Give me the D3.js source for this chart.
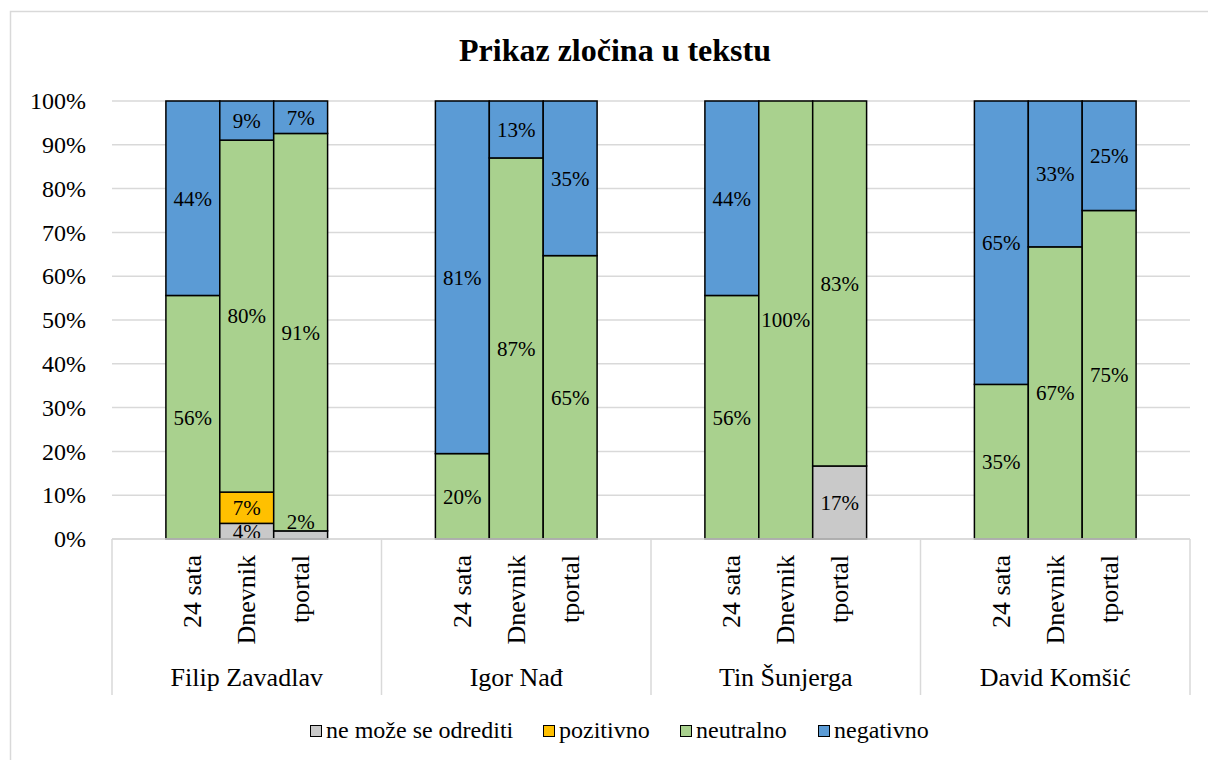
<!DOCTYPE html>
<html>
<head>
<meta charset="utf-8">
<script src="https://cdn.jsdelivr.net/npm/d3@7"></script>
<style>
  body { margin: 0; background: #fff; }
  text { font-family: "Liberation Serif", "Times New Roman", serif; fill: #000; }
</style>
</head>
<body>
<div id="chart"></div>
<script>
// data
var candidates = ["Filip Zavadlav", "Igor Nađ", "Tin Šunjerga", "David Komšić"];
var outlets = ["24 sata", "Dnevnik", "tportal"];
var seriesNames = ["ne može se odrediti", "pozitivno", "neutralno", "negativno"];
var seriesColors = ["#C9C9C9", "#FFC000", "#A9D18E", "#5B9BD5"];

// one value per bar, candidate by candidate, outlet by outlet (percent)
var neOdredeno = [0, 3.57, 1.85, 0, 0, 0, 0, 0, 16.67, 0, 0, 0];
var pozitivno  = [0, 7.14, 0, 0, 0, 0, 0, 0, 0, 0, 0, 0];
var neutralno  = [55.6, 80.36, 90.74, 19.5, 87, 64.7, 55.6, 100, 83.33, 35.3, 66.7, 75];
var negativno  = [44.4, 8.93, 7.41, 80.5, 13, 35.3, 44.4, 0, 0, 64.7, 33.3, 25];

var yTicks = [0, 0.1, 0.2, 0.3, 0.4, 0.5, 0.6, 0.7, 0.8, 0.9, 1];

var svgWidth = 1208;
var svgHeight = 760;

var margin = { top: 101, right: 18, bottom: 221, left: 112 };
var width = svgWidth - margin.left - margin.right;
var height = svgHeight - margin.top - margin.bottom;

var svg = d3.select("#chart")
    .append("svg")
    .attr("width", svgWidth)
    .attr("height", svgHeight);

// outer frame
svg.append("rect")
    .attr("x", 10.5)
    .attr("y", 11.5)
    .attr("width", svgWidth)
    .attr("height", svgHeight)
    .attr("fill", "none")
    .attr("stroke", "#D9D9D9")
    .attr("stroke-width", 1.5);

svg.append("text")
    .attr("x", 615)
    .attr("y", 61)
    .attr("text-anchor", "middle")
    .style("font-size", "32px")
    .style("font-weight", "bold")
    .text("Prikaz zločina u tekstu");

var chartGroup = svg.append("g")
    .attr("transform", `translate(${margin.left}, ${margin.top})`);

// build rows
var rows = [];
candidates.forEach(function(c, ci) {
  outlets.forEach(function(o, oi) {
    var i = ci * outlets.length + oi;
    var vals = [neOdredeno[i], pozitivno[i], neutralno[i], negativno[i]];
    var total = d3.sum(vals);
    rows.push({ candidate: c, outlet: o, vals: vals, total: total });
  });
});

// scales
var xGroup = d3.scaleBand()
    .domain(candidates)
    .range([0, width])
    .padding(0);

var xInner = d3.scaleBand()
    .domain(outlets)
    .range([0, xGroup.bandwidth()])
    .paddingInner(0)
    .paddingOuter(1);

var yScale = d3.scaleLinear()
    .domain([0, 1])
    .range([height, 0]);

// gridlines
chartGroup.append("g")
    .selectAll("line")
    .data(yTicks)
    .enter()
    .append("line")
    .attr("x1", 0)
    .attr("x2", width)
    .attr("y1", d => yScale(d))
    .attr("y2", d => yScale(d))
    .attr("stroke", "#D9D9D9")
    .attr("stroke-width", 1.5);

// y axis labels
var leftAxis = d3.axisLeft(yScale)
    .tickValues(yTicks)
    .tickFormat(d3.format(".0%"))
    .tickSize(0)
    .tickPadding(26);

var yAxisG = chartGroup.append("g").call(leftAxis);
yAxisG.select(".domain").remove();
yAxisG.selectAll("text").style("font-size", "24px").style("font-family", "Liberation Serif");

// stacked bars
var stacks = [];
rows.forEach(function(r) {
  var acc = 0;
  r.vals.forEach(function(v, si) {
    var y0 = acc / r.total;
    acc += v;
    var y1 = acc / r.total;
    stacks.push({ row: r, series: si, v: v, y0: y0, y1: y1 });
  });
});

var barX = d => xGroup(d.row.candidate) + xInner(d.row.outlet);

chartGroup.append("g")
    .selectAll("rect")
    .data(stacks.filter(d => d.v > 0))
    .enter()
    .append("rect")
    .attr("x", barX)
    .attr("width", xInner.bandwidth())
    .attr("y", d => yScale(d.y1))
    .attr("height", d => yScale(d.y0) - yScale(d.y1))
    .attr("fill", d => seriesColors[d.series])
    .attr("stroke", "#000")
    .attr("stroke-width", 1.5);

// data labels
chartGroup.append("g")
    .selectAll("text")
    .data(stacks.filter(d => d.v > 0))
    .enter()
    .append("text")
    .attr("x", d => barX(d) + xInner.bandwidth() / 2)
    .attr("y", function(d) {
      var top = yScale(d.y1), bottom = yScale(d.y0);
      if (bottom - top < 12) return top - 9;
      return (top + bottom) / 2;
    })
    .attr("dy", "0.35em")
    .attr("text-anchor", "middle")
    .style("font-size", "21px")
    .text(d => Math.round(d.v / d.row.total * 100) + "%");

// category axis
var axisG = chartGroup.append("g")
    .attr("transform", `translate(0, ${height})`);

axisG.append("line")
    .attr("x1", 0)
    .attr("x2", width)
    .attr("stroke", "#D9D9D9")
    .attr("stroke-width", 1.5);

var bounds = candidates.map(c => xGroup(c)).concat([width]);
axisG.selectAll(".sep")
    .data(bounds)
    .enter()
    .append("line")
    .attr("class", "sep")
    .attr("x1", d => d)
    .attr("x2", d => d)
    .attr("y1", 0)
    .attr("y2", 156)
    .attr("stroke", "#D9D9D9")
    .attr("stroke-width", 1.5);

axisG.selectAll(".outlet")
    .data(rows)
    .enter()
    .append("text")
    .attr("class", "outlet")
    .attr("transform", d => `translate(${xGroup(d.candidate) + xInner(d.outlet) + xInner.bandwidth() / 2}, 16) rotate(-90)`)
    .attr("dy", "0.33em")
    .attr("text-anchor", "end")
    .style("font-size", "26px")
    .text(d => d.outlet);

axisG.selectAll(".cand")
    .data(candidates)
    .enter()
    .append("text")
    .attr("class", "cand")
    .attr("x", d => xGroup(d) + xGroup.bandwidth() / 2)
    .attr("y", 147)
    .attr("text-anchor", "middle")
    .style("font-size", "26px")
    .text(d => d);

// legend
var legendX = [310, 543, 680, 818];
var legend = svg.append("g")
    .selectAll("g")
    .data(seriesNames)
    .enter()
    .append("g")
    .attr("transform", (d, i) => `translate(${legendX[i]}, 725)`);

legend.append("rect")
    .attr("x", 0.5)
    .attr("y", 0.5)
    .attr("width", 11)
    .attr("height", 11)
    .attr("fill", (d, i) => seriesColors[i])
    .attr("stroke", "#000")
    .attr("stroke-width", 1);

legend.append("text")
    .attr("x", 16)
    .attr("y", 13)
    .style("font-size", "24px")
    .text(d => d);
</script>
</body>
</html>
